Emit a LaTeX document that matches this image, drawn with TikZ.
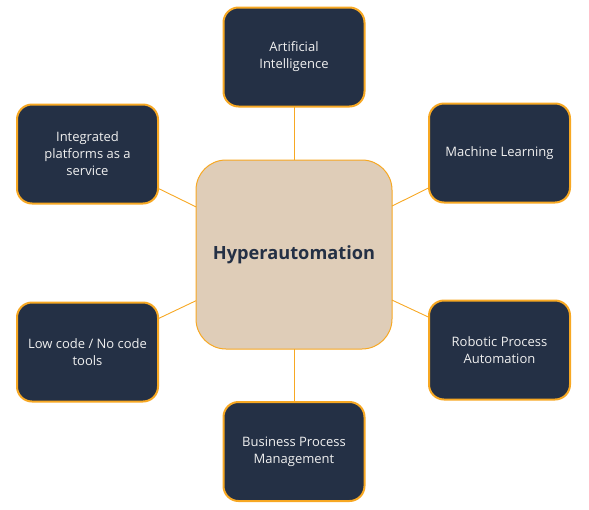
\documentclass[tikz,border=0pt]{standalone}
\usepackage{fontspec}
\setmainfont{Open Sans}
\begin{document}
\begin{tikzpicture}[x=1pt,y=-1pt,
  every node/.style={inner sep=0pt, outer sep=0pt},
  outer/.style={draw=borange, line width=2pt, fill=navy, rounded corners=15pt,
    minimum width=141pt, minimum height=99pt, text=boxtext, align=center,
    font=\fontsize{13}{17}\selectfont},
  hub/.style={draw=borange, line width=1pt, fill=tan, rounded corners=30pt,
    minimum width=196pt, minimum height=189pt, text=navy,
    font=\fontsize{18.2}{22}\selectfont\bfseries},
  link/.style={draw=borange, line width=0.9pt}]
\definecolor{navy}{HTML}{243045}
\definecolor{borange}{HTML}{F7A823}
\definecolor{tan}{HTML}{DFCDB8}
\definecolor{boxtext}{HTML}{F0F0F0}
\useasboundingbox (0,0) rectangle (589,509);
\node[hub] (hub) at (294,254.5) {Hyperautomation};
\node[outer] (ai) at (294,57) {Artificial\\Intelligence};
\node[outer] (ml) at (499.5,153) {Machine Learning};
\node[outer] (rpa) at (499.5,350) {Robotic Process\\Automation};
\node[outer] (bpm) at (294,451.5) {Business Process\\Management};
\node[outer] (lc) at (87.5,352) {Low code / No code\\tools};
\node[outer] (ip) at (87.5,154) {Integrated\\platforms as a\\service};
\draw[link] (hub) -- (ai);
\draw[link] (hub) -- (ml);
\draw[link] (hub) -- (rpa);
\draw[link] (hub) -- (bpm);
\draw[link] (hub) -- (lc);
\draw[link] (hub) -- (ip);
\end{tikzpicture}
\end{document}
